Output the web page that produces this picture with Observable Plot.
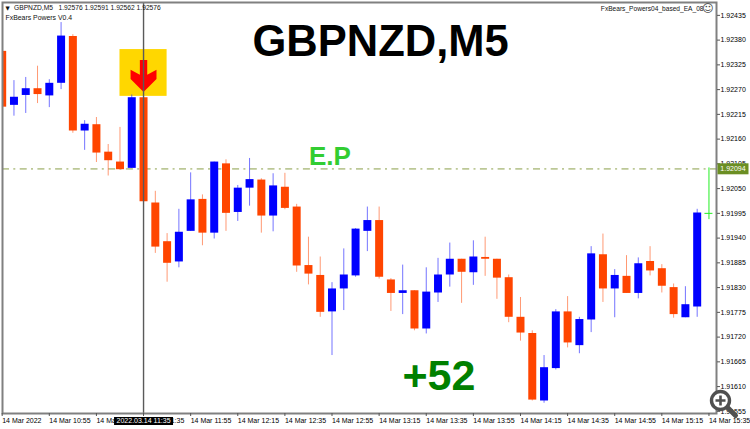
<!DOCTYPE html>
<html>
<head>
<meta charset="utf-8">
<style>html,body{margin:0;padding:0;background:#fff;overflow:hidden}</style>
<script src="https://cdn.jsdelivr.net/npm/d3@7"></script>
<script src="https://cdn.jsdelivr.net/npm/@observablehq/plot@0.6"></script>
</head>
<body>
<div id="chart"></div>
<script>
const times = ["10:35","10:40","10:45","10:50","10:55","11:00","11:05","11:10","11:15","11:20","11:25","11:30","11:35","11:40","11:45","11:50","11:55","12:00","12:05","12:10","12:15","12:20","12:25","12:30","12:35","12:40","12:45","12:50","12:55","13:00","13:05","13:10","13:15","13:20","13:25","13:30","13:35","13:40","13:45","13:50","13:55","14:00","14:05","14:10","14:15","14:20","14:25","14:30","14:35","14:40","14:45","14:50","14:55","15:00","15:05","15:10","15:15","15:20","15:25","15:30"];
const open = [1.92355,1.92235,1.92257,1.92272,1.92256,1.92284,1.92388,1.92178,1.92192,1.92131,1.92109,1.92095,1.92252,1.92018,1.91932,1.91887,1.91955,1.92026,1.91951,1.92105,1.91997,1.92051,1.92069,1.91989,1.92053,1.92009,1.91879,1.91857,1.91776,1.91827,1.91856,1.91955,1.91979,1.91847,1.91817,1.91823,1.91738,1.91818,1.91858,1.91893,1.91863,1.91897,1.91893,1.91852,1.91764,1.91728,1.91578,1.91650,1.91776,1.91701,1.91758,1.91903,1.91827,1.91855,1.91817,1.91888,1.91872,1.91830,1.91763,1.91787];
const close = [1.92231,1.92253,1.92272,1.92259,1.92284,1.92389,1.92178,1.92193,1.92129,1.92112,1.92092,1.92252,1.92021,1.91920,1.91884,1.91953,1.92025,1.91951,1.92109,1.91995,1.92051,1.92070,1.91989,1.92056,1.92006,1.91878,1.91860,1.91775,1.91827,1.91858,1.91960,1.91979,1.91853,1.91817,1.91823,1.91738,1.91820,1.91858,1.91893,1.91864,1.91898,1.91893,1.91851,1.91764,1.91729,1.91580,1.91652,1.91776,1.91707,1.91759,1.91905,1.91827,1.91857,1.91817,1.91883,1.91867,1.91833,1.91770,1.91792,1.91996];
const high = [1.92355,1.92290,1.92297,1.92322,1.92292,1.92419,1.92392,1.92201,1.92208,1.92148,1.92186,1.92258,1.92253,1.92044,1.91950,1.92004,1.92085,1.92036,1.92109,1.92114,1.92057,1.92117,1.92072,1.92083,1.92084,1.92015,1.91942,1.91898,1.91841,1.91916,1.91961,1.92009,1.92009,1.91850,1.91880,1.91823,1.91874,1.91895,1.91929,1.91893,1.91934,1.91942,1.91893,1.91858,1.91808,1.91734,1.91679,1.91781,1.91810,1.91764,1.91921,1.91949,1.91870,1.91901,1.91896,1.91921,1.91881,1.91838,1.91832,1.92004];
const low = [1.92217,1.92211,1.92217,1.92239,1.92230,1.92270,1.92173,1.92135,1.92108,1.92078,1.92092,1.92095,1.92021,1.91906,1.91842,1.91874,1.91955,1.91923,1.91938,1.91955,1.91977,1.92011,1.91951,1.91954,1.92003,1.91864,1.91836,1.91764,1.91679,1.91779,1.91853,1.91910,1.91849,1.91777,1.91770,1.91734,1.91727,1.91797,1.91831,1.91795,1.91835,1.91855,1.91804,1.91752,1.91711,1.91578,1.91573,1.91647,1.91696,1.91683,1.91730,1.91797,1.91763,1.91817,1.91805,1.91856,1.91818,1.91762,1.91763,1.91764];
const yTicks = [1.92435,1.92380,1.92325,1.92270,1.92215,1.92160,1.92105,1.92050,1.91995,1.91940,1.91885,1.91830,1.91775,1.91720,1.91665,1.91610,1.91555];
const xTickTimes = ["10:35","10:55","11:15","11:35","11:55","12:15","12:35","12:55","13:15","13:35","13:55","14:15","14:35","14:55","15:15","15:35"];
const xTickLabels = ["14 Mar 2022","14 Mar 10:55","14 Mar 11:15","14 Mar 11:35","14 Mar 11:55","14 Mar 12:15","14 Mar 12:35","14 Mar 12:55","14 Mar 13:15","14 Mar 13:35","14 Mar 13:55","14 Mar 14:15","14 Mar 14:35","14 Mar 14:55","14 Mar 15:15","14 Mar 15:35"];
const entryPrice = 1.92094;
const liveBar = {time:"15:35", high:1.92096, low:1.91981, close:1.91995};
const signalTime = "11:35";

const BLUE = "#0000ff", ORANGE = "#ff4500", FONT = "Liberation Sans";
const T = s => new Date(`2022-03-14T${s.length === 5 ? s + ":00" : s}Z`);
const candles = times.map((t,i) => ({time:T(t), open:open[i], close:close[i], high:high[i], low:low[i]}));
const up = d => d.close > d.open ? BLUE : ORANGE;

// Symbols drawn relative to the mark's anchor
const scaled = pts => ({draw(c,size){const s=Math.sqrt(size/Math.PI);pts.forEach(([x,y],i)=>i?c.lineTo(x*s,y*s):c.moveTo(x*s,y*s));c.closePath();}});
const arrow = scaled([[-.23,-1],[.23,-1],[.23,-.09],[.81,-.39],[.81,.175],[0,1],[-.81,.175],[-.81,-.39],[-.23,-.09]]);
const box = (w,h) => ({draw(c){c.rect(-w,-h,2*w,2*h);}});
const lens = {draw(c){c.moveTo(9,0);c.arc(0,0,9,0,2*Math.PI);}};
const plus = {draw(c){c.moveTo(-5,0);c.lineTo(5,0);c.moveTo(0,-5);c.lineTo(0,5);}};
const handle = {draw(c){c.moveTo(7,7);c.lineTo(15,15);}};
const labelAt = (text,o) => Plot.text([text],{text:d=>d,fontFamily:FONT,...o});

const chart = Plot.plot({
  width:750, height:429,
  marginLeft:2, marginRight:34, marginTop:2, marginBottom:16,
  style:{background:"#fff",fontFamily:FONT},
  x:{type:"utc",domain:[T("10:35:08"),T("15:38:12")]},
  y:{domain:[1.915502,1.924636]},
  marks:[
    Plot.ruleY([entryPrice],{stroke:"#bcc896",strokeWidth:1.7,strokeDasharray:"7,4.3,2,4.4"}),
    Plot.rect([0],{x1:T("11:25"),x2:T("11:45"),y1:1.92359,y2:1.92255,fill:"#ffd700"}),
    Plot.ruleX(candles,{x:"time",y1:"low",y2:"high",stroke:up,strokeWidth:1,strokeOpacity:.55,clip:"frame"}),
    Plot.ruleX(candles,{x:"time",y1:"open",y2:"close",stroke:up,strokeWidth:8,clip:"frame"}),
    Plot.ruleX([T(liveBar.time)],{y1:liveBar.high,y2:liveBar.low,stroke:"#22ee22",strokeWidth:1}),
    Plot.ruleY([liveBar.close],{x1:T("15:33:18"),x2:T("15:36:42"),stroke:"#22ee22",strokeWidth:1}),
    Plot.dot([0],{x:T(signalTime),y:1.92300,r:16,symbol:arrow,fill:"#ff0000",stroke:"none"}),
    Plot.ruleX([T(signalTime)],{stroke:"#5a5a5a",strokeWidth:1.4}),
    Plot.frame({stroke:"#808080",strokeWidth:2}),
    Plot.axisY({anchor:"right",ticks:yTicks,tickFormat:d3.format(".5f"),tickSize:3,tickPadding:1,fontSize:7,stroke:"#555",label:null,color:"#000"}),
    Plot.axisX({ticks:xTickTimes.map(T),tickFormat:(d,i)=>xTickLabels[xTickTimes.findIndex(t=>+T(t)===+d)],tickSize:3,tickPadding:2,textAnchor:"start",fontSize:7,stroke:"#555",label:null}),
    // crosshair time flag
    Plot.dot([0],{x:T(signalTime),frameAnchor:"bottom",dy:7.5,symbol:box(29.5,4),fill:"#000",stroke:"none",r:4}),
    labelAt("2022.03.14 11:35",{x:T(signalTime),frameAnchor:"bottom",dy:7.5,lineAnchor:"middle",fill:"#fff",fontSize:7}),
    // entry price flag
    Plot.dot([0],{y:entryPrice,frameAnchor:"right",dx:16.5,symbol:box(15.5,5.5),fill:"#6b8e23",stroke:"none",r:4}),
    labelAt("1.92094",{y:entryPrice,frameAnchor:"right",dx:16.5,textAnchor:"middle",fill:"#fff",fontSize:7}),
    // headers
    labelAt("▼",{frameAnchor:"top-left",dx:3,dy:3.5,fontSize:5.5,fill:"#111",fontFamily:"DejaVu Sans"}),
    labelAt("GBPNZD,M5",{frameAnchor:"top-left",dx:11.5,dy:3,fontSize:6.7,fill:"#111"}),
    labelAt("1.92576 1.92591 1.92562 1.92576",{frameAnchor:"top-left",dx:56,dy:3,fontSize:6.7,fill:"#111"}),
    labelAt("FxBears Powers V0.4",{frameAnchor:"top-left",dx:3,dy:13,fontSize:6.9,fill:"#111"}),
    labelAt("FxBears_Powers04_based_EA_08",{frameAnchor:"top-right",dx:-13,dy:4,fontSize:6.6,fill:"#111"}),
    labelAt("☺",{frameAnchor:"top-right",dx:-3,dy:2,fontSize:11,fontFamily:"DejaVu Sans",fill:"#444"}),
    // big annotations
    labelAt("GBPNZD,M5",{frameAnchor:"top-left",dx:250,dy:23,fontSize:43.5,fontWeight:"bold",fill:"#000"}),
    labelAt("E.P",{x:T("12:55"),y:1.92121,dx:-23,textAnchor:"start",fontSize:26,fontWeight:"bold",fill:"#32cd32"}),
    labelAt("+52",{frameAnchor:"top-left",dx:400,dy:357,fontSize:43,fontWeight:"bold",fill:"#008000"}),
    // zoom lens badge
    Plot.dot([0],{frameAnchor:"bottom-right",dx:4,dy:-13,symbol:lens,r:4,fill:"#fff",stroke:"#505050",strokeWidth:3.4}),
    Plot.dot([0],{frameAnchor:"bottom-right",dx:4,dy:-13,symbol:plus,r:4,stroke:"#505050",strokeWidth:2.6,fill:"none"}),
    Plot.dot([0],{frameAnchor:"bottom-right",dx:4,dy:-13,symbol:handle,r:4,stroke:"#505050",strokeWidth:5,fill:"none",strokeLinecap:"round"})
  ]
});
document.getElementById("chart").append(chart);
</script>
</body>
</html>
